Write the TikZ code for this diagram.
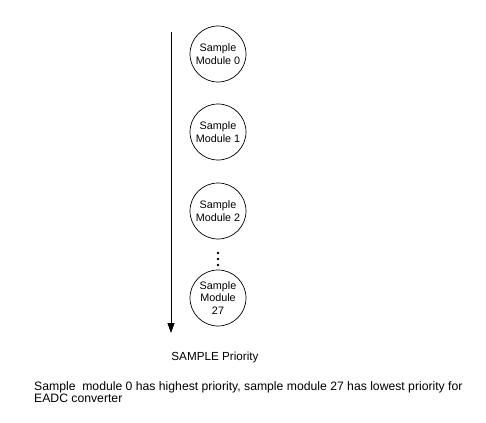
\documentclass[tikz,border=0pt]{standalone}
\usepackage{fontspec}
\setmainfont{Liberation Sans}
\usetikzlibrary{arrows.meta}
\begin{document}
\begin{tikzpicture}[x=1pt,y=-1pt,
  module/.style={draw, circle, minimum size=56pt, inner sep=0pt, align=center,
    font=\fontsize{10.8}{12.5}\selectfont, line width=0.7pt},
  lbl/.style={font=\fontsize{11.7}{11}\selectfont, inner sep=0pt}]
\useasboundingbox (0,0) rectangle (486,422);
\node[module] (m0) at (218,54) {Sample\\Module 0};
\node[module] (m1) at (218,132) {Sample\\Module 1};
\node[module] (m2) at (218,211) {Sample\\Module 2};
\node[module] (m27) at (218,298) {Sample\\Module\\27};
\coordinate (top) at (171,32);
\coordinate (bot) at (171,333);
\draw[line width=0.8pt, -{Triangle[length=10pt,width=7pt]}] (top) -- (bot);
\foreach \yy [count=\i] in {253,259,265} \fill (218,\yy) circle (1.3pt);
\node[lbl, anchor=center] (prio) at (215,357) {SAMPLE Priority};
\node[lbl, anchor=north west, align=left, font=\fontsize{12.2}{11}\selectfont] (note) at (34,381)
  {Sample\ \ module 0 has highest priority, sample module 27 has lowest priority for\\EADC converter};
\end{tikzpicture}
\end{document}
